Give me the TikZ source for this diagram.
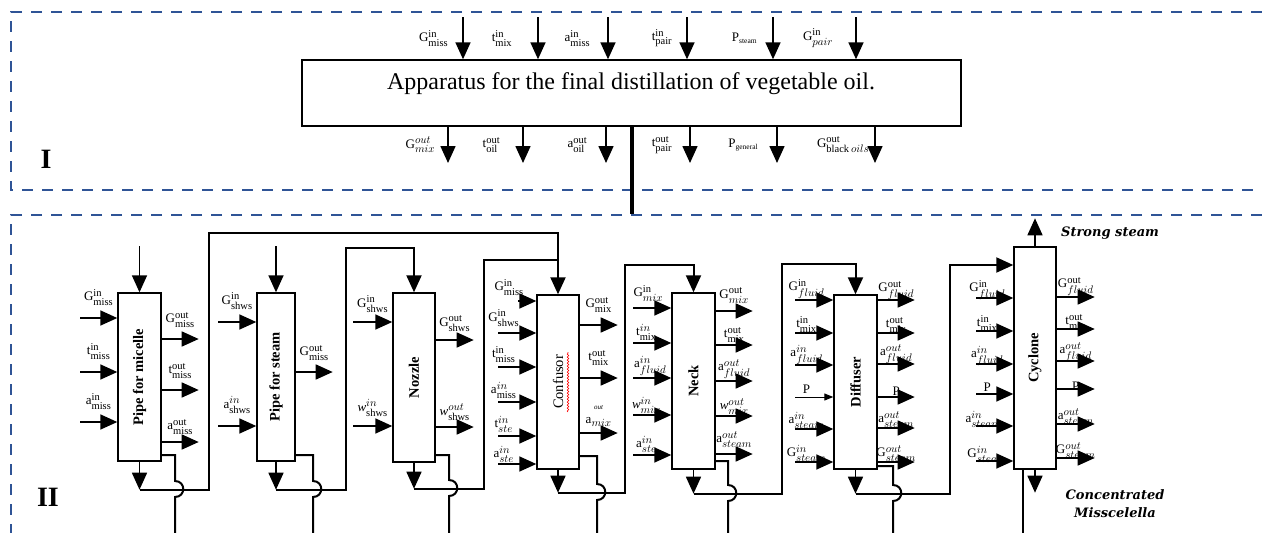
\documentclass[tikz,border=0pt]{standalone}
\usepackage{amsmath}
\usepackage{graphicx}
\usepackage{fontspec}
\setmainfont{Liberation Serif}
\newfontfamily\notefont{DejaVu Serif}
\usetikzlibrary{arrows.meta,decorations.pathmorphing}
\definecolor{zoneblue}{RGB}{47,84,150}
\DeclareMathSizes{13}{13}{10.5}{7.5}
\newcommand{\boxfont}{\fontsize{14.5}{16}\selectfont}
% quantities: upright indices / indices given in math
\newcommand{\qlbl}[3]{#1$^{\mathrm{#2}}_{\mathrm{#3}}$}
\newcommand{\qit}[3]{#1$^{#2}_{#3}$}

\begin{document}
\begin{tikzpicture}[x=1pt, y=-1pt,
    every node/.style={font=\fontsize{13}{15}\selectfont, inner sep=1pt},
    unitbox/.style={draw, line width=1.4pt, inner sep=0pt, font=\boxfont},
    arr/.style={line width=1.6pt, -{Triangle[length=17pt,width=15pt]}},
    thinarr/.style={line width=1pt, -{Triangle[length=9pt,width=7pt]}},
    flowline/.style={line width=2pt},
    zone/.style={draw=zoneblue, line width=2pt, dash pattern=on 11pt off 9pt}]
\useasboundingbox (0,0) rectangle (1262,533);

% Dashed zones
\draw[zone] (1262,12) -- (11,12) -- (11,190) -- (1262,190);
\draw[zone] (1262,215) -- (11,215) -- (11,533);
\node[font=\fontsize{28}{30}\selectfont\bfseries] (zoneI) at (46,159) {I};
\node[font=\fontsize{28}{30}\selectfont\bfseries] (zoneII) at (48,497) {II};

% Apparatus (level I)
\node[unitbox, minimum width=659pt, minimum height=66pt] (app) at (631.5,93) {};
\node[font=\fontsize{24}{26}\selectfont] (apptitle) at (631,84) {Apparatus for the final distillation of vegetable oil.};

% Apparatus inputs
\draw[arr] (463,17) -- (app.north -| 463,0) node[midway, left=13pt] {\qlbl{G}{in}{miss}};
\draw[arr] (538,17) -- (app.north -| 538,0) node[midway, left=24pt] {\qlbl{t}{in}{mix}};
\draw[arr] (608,17) -- (app.north -| 608,0) node[midway, left=16pt] {\qlbl{a}{in}{miss}};
\draw[arr] (687,17) -- (app.north -| 687,0) node[midway, left=13pt] {\qlbl{t}{in}{pair}};
\draw[arr] (773,17) -- (app.north -| 773,0) node[midway, left=14pt] {P$_{\scriptscriptstyle\mathrm{steam}}$};
\draw[arr] (856,17) -- (app.north -| 856,0) node[midway, left=21pt] {\qit{G}{\mathrm{in}}{pair}};

% Apparatus outputs
\draw[arr] (app.south -| 448,0) -- (448,163) node[midway, left=11pt] {\qit{G}{out}{mix}};
\draw[arr] (app.south -| 523,0) -- (523,163) node[midway, left=21pt] {\qlbl{t}{out}{oil}};
\draw[arr] (app.south -| 606,0) -- (606,163) node[midway, left=17pt] {\qlbl{a}{out}{oil}};
\draw[arr] (app.south -| 690,0) -- (690,163) node[midway, left=16pt] {\qlbl{t}{out}{pair}};
\draw[arr] (app.south -| 777,0) -- (777,163) node[midway, left=17pt] {P$_{\scriptscriptstyle\mathrm{general}}$};
\draw[arr] (app.south -| 875,0) -- (875,163) node[midway, left=4pt] {\qit{G}{\mathrm{out}}{\mathrm{black}\,oils}};

% Link to level II
\draw[line width=3.5pt] (app.south -| 632,0) -- (632,214);

% Pipe for micelle
\node[unitbox, minimum width=43pt, minimum height=168pt] (micelle) at (139.5,377) {\rotatebox{90}{\bfseries Pipe for micelle}};
\draw[arr] (micelle.north) ++(0,-46) -- (micelle.north);
\draw[arr] (80,318) -- (micelle.west |- 0,318) node[midway, above=11pt] {\qlbl{G}{in}{miss}};
\draw[arr] (80,372) -- (micelle.west |- 0,372) node[midway, above=11pt] {\qlbl{t}{in}{miss}};
\draw[arr] (80,422) -- (micelle.west |- 0,422) node[midway, above=11pt] {\qlbl{a}{in}{miss}};
\draw[arr] (micelle.east |- 0,339) -- ++(37,0) node[midway, above=10pt] {\qlbl{G}{out}{miss}};
\draw[arr] (micelle.east |- 0,390) -- ++(37,0) node[midway, above=10pt] {\qlbl{t}{out}{miss}};
\draw[arr] (micelle.east |- 0,442) -- ++(37,0) node[midway, above=6pt] {\qlbl{a}{out}{miss}};

% Pipe for steam
\node[unitbox, minimum width=38pt, minimum height=168pt] (steampipe) at (276,377) {\rotatebox{90}{\bfseries Pipe for steam}};
\draw[arr] (steampipe.north) ++(0,-46) -- (steampipe.north);
\draw[arr] (218,322) -- (steampipe.west |- 0,322) node[midway, above=11pt] {\qlbl{G}{in}{shws}};
\draw[arr] (218,426) -- (steampipe.west |- 0,426) node[midway, above=11pt] {\qit{a}{in}{\mathrm{shws}}};
\draw[arr] (steampipe.east |- 0,372) -- ++(37,0) node[midway, above=10pt] {\qlbl{G}{out}{miss}};

% Nozzle
\node[unitbox, minimum width=42pt, minimum height=169pt] (nozzle) at (414,377.5) {\rotatebox{90}{\bfseries Nozzle}};
\draw[arr] (353,322) -- (nozzle.west |- 0,322) node[midway, above=8pt] {\qlbl{G}{in}{shws}};
\draw[arr] (353,426) -- (nozzle.west |- 0,426) node[midway, above=8pt] {\qit{\textit{w}}{in}{\mathrm{shws}}};
\draw[arr] (nozzle.east |- 0,340) -- ++(38,0) node[midway, above=7pt] {\qlbl{G}{out}{shws}};
\draw[arr] (nozzle.east |- 0,427) -- ++(38,0) node[midway, above=5pt] {\qit{\textit{w}}{out}{\mathrm{shws}}};

% Confusor
\node[unitbox, minimum width=42pt, minimum height=174pt] (confusor) at (558,382) {\rotatebox{90}{Confusor}};
\draw[red, line width=0.6pt, decorate, decoration={snake, amplitude=0.8pt, segment length=3pt}] (568,412) -- (568,352);
\draw[arr] (518,301) -- (confusor.west |- 0,301) node[midway, above=4pt, xshift=-18pt] {\qlbl{G}{in}{miss}};
\draw[arr] (498,333) -- (confusor.west |- 0,333) node[pos=0.15, above=5pt] {\qlbl{G}{in}{shws}};
\draw[arr] (498,367) -- (confusor.west |- 0,367) node[pos=0.15, above=3pt] {\qlbl{t}{in}{miss}};
\draw[arr] (498,402) -- (confusor.west |- 0,402) node[pos=0.15, above=2pt] {\qit{a}{in}{\mathrm{miss}}};
\draw[arr] (498,436) -- (confusor.west |- 0,436) node[pos=0.15, above=2pt] {\qit{t}{in}{ste}};
\draw[arr] (498,464) -- (confusor.west |- 0,464) node[pos=0.15, above=0pt] {\qit{a}{in}{ste}};
\draw[arr] (confusor.east |- 0,325) -- ++(38,0) node[midway, above=11pt] {\qlbl{G}{out}{mix}};
\draw[arr] (confusor.east |- 0,378) -- ++(38,0) node[midway, above=11pt] {\qlbl{t}{out}{mix}};
\draw[arr] (confusor.east |- 0,433) -- ++(38,0) node[midway, above=6pt, align=center, inner sep=0pt] {{\fontsize{7}{8}\selectfont\itshape out}\\[-1pt] a$_{mix}$};

% Neck
\node[unitbox, minimum width=43pt, minimum height=176pt] (neck) at (693.5,381) {\rotatebox{90}{\bfseries Neck}};
\draw[arr] (633,308) -- (neck.west |- 0,308) node[pos=0.4, above=5pt] {\qit{G}{\mathrm{in}}{mix}};
\draw[arr] (633,343) -- (neck.west |- 0,343) node[pos=0.35, above=1pt] {\qit{t}{in}{\mathrm{mix}}};
\draw[arr] (633,378) -- (neck.west |- 0,378) node[pos=0.45, above=1pt] {\qit{a}{in}{fluid}};
\draw[arr] (633,415) -- (neck.west |- 0,415) node[pos=0.35, above=0pt] {\qit{\textit{w}}{in}{mix}};
\draw[arr] (633,455) -- (neck.west |- 0,455) node[pos=0.35, above=1pt] {\qit{a}{in}{ste}};
\draw[arr] (neck.east |- 0,311) -- ++(37,0) node[midway, above=6pt] {\qit{G}{\mathrm{out}}{mix}};
\draw[arr] (neck.east |- 0,345) -- ++(37,0) node[midway, above=1pt] {\qit{t}{\mathrm{out}}{\mathrm{mix}}};
\draw[arr] (neck.east |- 0,381) -- ++(37,0) node[midway, above=1pt] {\qit{a}{out}{fluid}};
\draw[arr] (neck.east |- 0,416) -- ++(37,0) node[midway, above=0pt] {\qit{\textit{w}}{out}{mix}};
\draw[arr] (neck.east |- 0,454) -- ++(37,0) node[midway, above=5pt] {\qit{a}{out}{steam}};

% Diffuser
\node[unitbox, minimum width=43pt, minimum height=174pt] (diffuser) at (855.5,382) {\rotatebox{90}{\bfseries Diffuser}};
\draw[arr] (795,300) -- (diffuser.west |- 0,300) node[pos=0.3, above=0pt] {\qit{G}{\mathrm{in}}{fluid}};
\draw[arr] (795,333) -- (diffuser.west |- 0,333) node[pos=0.3, above=-1pt] {\qit{t}{\mathrm{in}}{\mathrm{mix}}};
\draw[arr] (795,365) -- (diffuser.west |- 0,365) node[pos=0.3, above=-1pt] {\qit{a}{in}{fluid}};
\draw[thinarr] (795,397) -- (diffuser.west |- 0,397) node[pos=0.3, above=2pt] {P};
\draw[arr] (795,429) -- (diffuser.west |- 0,429) node[pos=0.3, above=-1pt] {\qit{a}{in}{steam}};
\draw[arr] (795,462) -- (diffuser.west |- 0,462) node[pos=0.3, above=-1pt] {\qit{G}{in}{steam}};
\draw[arr] (diffuser.east |- 0,300) -- ++(37,0) node[midway, above=-1pt] {\qit{G}{\mathrm{out}}{fluid}};
\draw[arr] (diffuser.east |- 0,333) -- ++(37,0) node[midway, above=-1pt] {\qit{t}{\mathrm{out}}{\mathrm{mix}}};
\draw[arr] (diffuser.east |- 0,364) -- ++(37,0) node[midway, above=-1pt] {\qit{a}{out}{fluid}};
\draw[arr] (diffuser.east |- 0,397) -- ++(37,0) node[midway, above=0pt] {P};
\draw[arr] (diffuser.east |- 0,428) -- ++(37,0) node[midway, above=-1pt] {\qit{a}{out}{steam}};
\draw[arr] (diffuser.east |- 0,462) -- ++(37,0) node[midway, above=-1pt] {\qit{G}{out}{steam}};

% Cyclone
\node[unitbox, minimum width=42pt, minimum height=222pt] (cyclone) at (1035,358) {\rotatebox{90}{\bfseries Cyclone}};
\draw[arr] (976,298) -- (cyclone.west |- 0,298) node[pos=0.3, above=-3pt] {\qit{G}{\mathrm{in}}{fluid}};
\draw[arr] (976,331) -- (cyclone.west |- 0,331) node[pos=0.3, above=-2pt] {\qit{t}{\mathrm{in}}{\mathrm{mix}}};
\draw[arr] (976,364) -- (cyclone.west |- 0,364) node[pos=0.3, above=-3pt] {\qit{a}{in}{fluid}};
\draw[arr] (976,394) -- (cyclone.west |- 0,394) node[pos=0.3, above=1pt] {P};
\draw[arr] (976,426) -- (cyclone.west |- 0,426) node[pos=0.2, above=-3pt] {\qit{a}{in}{steam}};
\draw[arr] (976,461) -- (cyclone.west |- 0,461) node[pos=0.3, above=-3pt] {\qit{G}{in}{steam}};
\draw[arr] (cyclone.east |- 0,297) -- ++(38,0) node[midway, above=0pt] {\qit{G}{\mathrm{out}}{fluid}};
\draw[arr] (cyclone.east |- 0,329) -- ++(38,0) node[midway, above=-2pt] {\qit{t}{\mathrm{out}}{\mathrm{mix}}};
\draw[arr] (cyclone.east |- 0,361) -- ++(38,0) node[midway, above=-2pt] {\qit{a}{out}{fluid}};
\draw[arr] (cyclone.east |- 0,389) -- ++(38,0) node[midway, above=-3pt] {P};
\draw[arr] (cyclone.east |- 0,424) -- ++(38,0) node[midway, above=-2pt] {\qit{a}{out}{steam}};
\draw[arr] (cyclone.east |- 0,458) -- ++(38,0) node[midway, above=-2pt] {\qit{G}{out}{steam}};
\draw[arr] (cyclone.north) -- ++(0,-28);
\node[anchor=west, font=\notefont\fontsize{13}{15}\selectfont\bfseries\itshape] (strong) at (1060,233) {Strong steam};
\draw[arr] (cyclone.south) -- ++(0,23);
\draw[flowline] (cyclone.south -| 1023,0) -- (1023,533);
\node[align=center, font=\notefont\fontsize{13}{18}\selectfont\bfseries\itshape] (conc) at (1115,504) {Concentrated\\Misscelella};

% Flows between the units
\draw[arr] (micelle.south) -- ++(0,28) coordinate (micout);
\draw[flowline, -{Triangle[length=17pt,width=15pt]}] (micout) -| (209,233) -| (confusor.north);
\draw[arr] (steampipe.south) -- ++(0,28) coordinate (steamout);
\draw[flowline, -{Triangle[length=17pt,width=15pt]}] (steamout) -| (346,248) -| (nozzle.north);
\draw[arr] (nozzle.south) -- ++(0,26) coordinate (nozout);
\draw[flowline] (nozout) -| (484,260) -- (confusor.north |- 0,260);
\draw[arr] (confusor.south) -- ++(0,23) coordinate (confout);
\draw[flowline, -{Triangle[length=17pt,width=15pt]}] (confout) -| (625,265) -| (neck.north);
\draw[arr] (neck.south) -- ++(0,24) coordinate (neckout);
\draw[flowline, -{Triangle[length=17pt,width=15pt]}] (neckout) -| (782,264) -| (diffuser.north);
\draw[arr] (diffuser.south) -- ++(0,24) coordinate (difout);
\draw[flowline, -{Triangle[length=17pt,width=15pt]}] (difout) -| (950,265) -- (cyclone.west |- 0,265);

% Side lines hopping over the flows
\draw[flowline] (micelle.east |- 0,455) -- (175,455) -- (175,481) .. controls (186,481) and (186,497) .. (175,497) -- (175,533);
\draw[flowline] (steampipe.east |- 0,455) -- (313,455) -- (313,481) .. controls (324,481) and (324,497) .. (313,497) -- (313,533);
\draw[flowline] (nozzle.east |- 0,455) -- (449,455) -- (449,480) .. controls (460,480) and (460,496) .. (449,496) -- (449,533);
\draw[flowline] (confusor.east |- 0,456) -- (597,456) -- (597,484) .. controls (608,484) and (608,500) .. (597,500) -- (597,533);
\draw[flowline] (neck.east |- 0,461) -- (728,461) -- (728,485) .. controls (739,485) and (739,501) .. (728,501) -- (728,533);
\draw[flowline] (diffuser.east |- 0,466) -- (893,466) -- (893,485) .. controls (904,485) and (904,501) .. (893,501) -- (893,533);
\end{tikzpicture}
\end{document}
